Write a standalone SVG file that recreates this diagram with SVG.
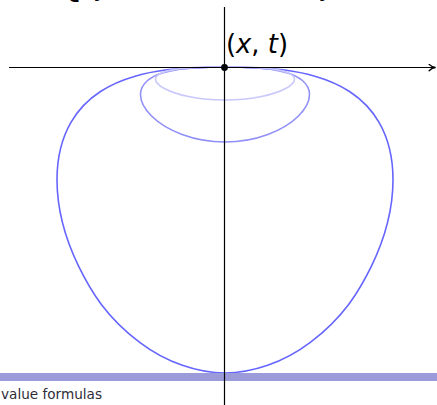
<svg xmlns="http://www.w3.org/2000/svg" width="437" height="405" viewBox="0 0 437 405">
  <style>
    .ball { fill: none; stroke-width: 1.6; stroke-linejoin: round; stroke-linecap: round; }
    .axis { stroke: #000; stroke-width: 1.2; fill: none; }
    .math { font-family: "DejaVu Sans", "Liberation Sans", sans-serif; fill: #000; }
    .foot { font-family: "DejaVu Sans", "Liberation Sans", sans-serif; font-size: 13.5px; fill: #2e2e3a; }
  </style>
  <defs>
    <marker id="arrow" viewBox="0 0 10 10" refX="9" refY="5" markerWidth="8" markerHeight="8" markerUnits="userSpaceOnUse" orient="auto">
      <path d="M1,1 Q5,5 9,5 Q5,5 1,9" fill="none" stroke="#000" stroke-width="1.6" stroke-linecap="round"/>
    </marker>
  </defs>
  <rect width="437" height="405" fill="#fff"/>

  <g id="title">
    <text class="math" x="58" y="-5" font-size="40">{</text>
    <text class="math" x="84" y="-4" font-size="24">(y, s) : s ≤ t, Φ(x − y, t − s) ≥ 1/rⁿ}</text>
  </g>

  <g id="heat-balls">
    <path id="ball-large" class="ball" stroke="#6666ff" d="M225,67 C245.16,67 276.68,69.04 284.44,70.06 C299.94,72.1 307.71,74.14 314.85,76.18 C332.69,81.28 341.68,86.38 349.5,91.48 C365.18,101.68 372.96,111.88 378.89,122.08 C390.04,141.24 393,160.41 393,179.58 C393,208.35 385.57,237.13 371.56,265.9 C359.15,291.4 343.83,316.9 310.29,342.4 C283.46,362.81 251.88,373 225,373 C198.12,373 166.54,362.81 139.71,342.4 C106.17,316.9 90.85,291.4 78.44,265.9 C64.43,237.13 57,208.35 57,179.58 C57,160.41 59.96,141.24 71.11,122.08 C77.04,111.88 84.82,101.68 100.5,91.48 C108.32,86.38 117.31,81.28 135.15,76.18 C142.29,74.14 150.06,72.1 165.56,70.06 C173.32,69.04 204.84,67 225,67 Z"/>
    <path id="ball-medium" class="ball" stroke="#9090f8" d="M225,67 C235.14,67 250.99,67.5 254.9,67.75 C262.7,68.25 266.6,68.75 270.19,69.25 C279.16,70.5 283.69,71.75 287.62,73 C295.51,75.5 299.42,78 302.4,80.5 C308.01,85.2 309.5,89.9 309.5,94.59 C309.5,101.64 305.77,108.7 298.72,115.75 C292.47,122 284.77,128.25 267.9,134.5 C254.41,139.5 238.52,142 225,142 C211.48,142 195.59,139.5 182.1,134.5 C165.23,128.25 157.53,122 151.28,115.75 C144.23,108.7 140.5,101.64 140.5,94.59 C140.5,89.9 141.99,85.2 147.6,80.5 C150.58,78 154.49,75.5 162.38,73 C166.31,71.75 170.84,70.5 179.81,69.25 C183.4,68.75 187.3,68.25 195.1,67.75 C199.01,67.5 214.86,67 225,67 Z"/>
    <path id="ball-small" class="ball" stroke="#c8c8fc" d="M225,67 C233.34,67 246.38,67.22 249.59,67.33 C256,67.55 259.21,67.77 262.17,67.99 C269.55,68.54 273.27,69.09 276.51,69.64 C282.99,70.74 286.21,71.84 288.66,72.94 C293.28,75.01 294.5,77.07 294.5,79.14 C294.5,82.24 291.43,85.35 285.63,88.45 C280.5,91.2 274.16,93.950 260.29,96.7 C249.19,98.9 236.12,100 225,100 C213.88,100 200.81,98.9 189.71,96.7 C175.84,93.95 169.5,91.2 164.37,88.45 C158.57,85.35 155.5,82.24 155.5,79.14 C155.5,77.07 156.72,75.01 161.34,72.94 C163.79,71.84 167.01,70.74 173.49,69.64 C176.73,69.09 180.45,68.54 187.83,67.99 C190.79,67.77 194,67.55 200.41,67.33 C203.62,67.22 216.66,67 225,67 Z"/>
  </g>

  <g id="axes">
    <line class="axis" x1="9" y1="67.5" x2="435.5" y2="67.5" marker-end="url(#arrow)"/>
    <line class="axis" x1="224.5" y1="7" x2="224.5" y2="405"/>
  </g>

  <g id="point">
    <circle cx="224.5" cy="67.5" r="3.4" fill="#000"/>
    <text class="math" x="226" y="53" font-size="27" textLength="62" lengthAdjust="spacingAndGlyphs">(<tspan font-style="italic">x</tspan>, <tspan font-style="italic">t</tspan>)</text>
  </g>

  <g id="footline">
    <rect x="0" y="373" width="437" height="8" fill="#9b9bd9"/>
    <line class="axis" x1="224.5" y1="373" x2="224.5" y2="381"/>
    <text class="foot" x="1" y="398.5" textLength="101" lengthAdjust="spacingAndGlyphs">value formulas</text>
  </g>
</svg>
